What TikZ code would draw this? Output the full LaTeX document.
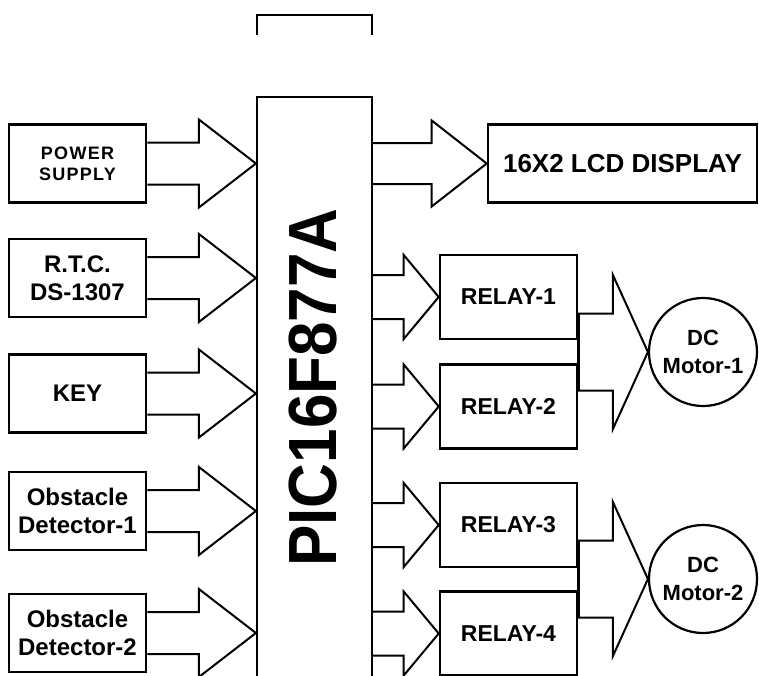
\documentclass[tikz,border=0pt]{standalone}
\usepackage{fontspec}
\setmainfont{Liberation Sans}
\newfontfamily\spacedfont[LetterSpace=7]{Liberation Sans}
\usetikzlibrary{calc}
\tikzset{
  box/.style={draw, line width=2.6pt, minimum width=137pt, minimum height=78pt, inner sep=0pt, align=center, font=\bfseries\fontsize{24}{28}\selectfont},
  relaybox/.style={box, minimum height=84pt, font=\bfseries\fontsize{23}{28}\selectfont},
  motor/.style={draw, circle, line width=2.2pt, minimum size=108pt, inner sep=0pt, align=center, font=\bfseries\fontsize{22}{28}\selectfont},
  blk/.style={line width=2pt, line join=miter},
}
% #1 start coordinate name, #2 tip coordinate name
\newcommand\blockarr[6]{%
  \draw[blk] let \p1=(#1), \p2=(#2) in
    (\x1,\y1+#4) -- (\x2-#3,\y1+#4) -- (\x2-#3,\y1+#5) -- (\x2,\y2)
    -- (\x2-#3,\y1-#5) -- (\x2-#3,\y1-#4) -- (\x1,\y1-#4) #6;}
\begin{document}
\begin{tikzpicture}[x=1pt,y=-1pt]
\useasboundingbox (0,0) rectangle (759,675);
\clip (0,0) rectangle (759,675);
% partial top box
\draw[line width=2.2pt] (257,35) -- (257,15) -- (372,15) -- (372,35);
% PIC
\node[draw, line width=2.2pt, minimum width=115pt, minimum height=623pt, inner sep=0pt] (pic) at (314.5,408.5) {};
\node[rotate=90, anchor=base, inner sep=0pt, font=\bfseries\fontsize{62}{62}\selectfont] (pictext) at (336,387.5) {\scalebox{1}[1.1]{PIC16F877A}};
% inputs
\node[box, font=\bfseries\spacedfont\fontsize{18}{21}\selectfont] (ps) at (77.5,163.5) {POWER\\SUPPLY};
\node[box] (rtc) at (77.5,278) {R.T.C.\\DS-1307};
\node[box] (key) at (77.5,393.5) {KEY};
\node[box] (ob1) at (77.5,511) {Obstacle\\Detector-1};
\node[box] (ob2) at (77.5,633) {Obstacle\\Detector-2};
\foreach \k in {ps,rtc,key,ob1,ob2}{
  \coordinate (s-\k) at (\k.east);
  \coordinate (t-\k) at (\k.east -| pic.west);
  \blockarr{s-\k}{t-\k}{57pt}{21pt}{44pt}{}
}
% LCD
\node[box, minimum width=269pt, font=\bfseries\fontsize{26}{30}\selectfont] (lcd) at (622.5,163.5) {16X2 LCD DISPLAY};
\coordinate (s-lcd) at (pic.east |- lcd.west);
\blockarr{s-lcd}{lcd.west}{55pt}{20.5pt}{43pt}{}
% relays
\node[relaybox] (r1) at (508.5,297) {RELAY-1};
\node[relaybox] (r2) at (508.5,406.5) {RELAY-2};
\node[relaybox] (r3) at (508.5,525) {RELAY-3};
\node[relaybox] (r4) at (508.5,633.5) {RELAY-4};
\foreach \k in {r1,r2,r3,r4}{
  \coordinate (s-\k) at (pic.east |- \k.west);
  \coordinate (t-\k) at (\k.west);
  \blockarr{s-\k}{t-\k}{35pt}{22pt}{42pt}{}
}
% motors
\node[motor] (m1) at (703,352) {DC\\Motor-1};
\node[motor] (m2) at (703,579) {DC\\Motor-2};
\coordinate (s-m1) at (r1.east |- m1.west);
\coordinate (s-m2) at (r3.east |- m2.west);
\blockarr{s-m1}{m1.west}{35pt}{38.5pt}{77pt}{-- cycle}
\blockarr{s-m2}{m2.west}{35pt}{38.5pt}{77pt}{-- cycle}
\draw[line width=3.5pt] (s-m1) ++(0,-38.5) -- ++(0,77);
\draw[line width=3.5pt] (s-m2) ++(0,-38.5) -- ++(0,77);
\end{tikzpicture}
\end{document}
